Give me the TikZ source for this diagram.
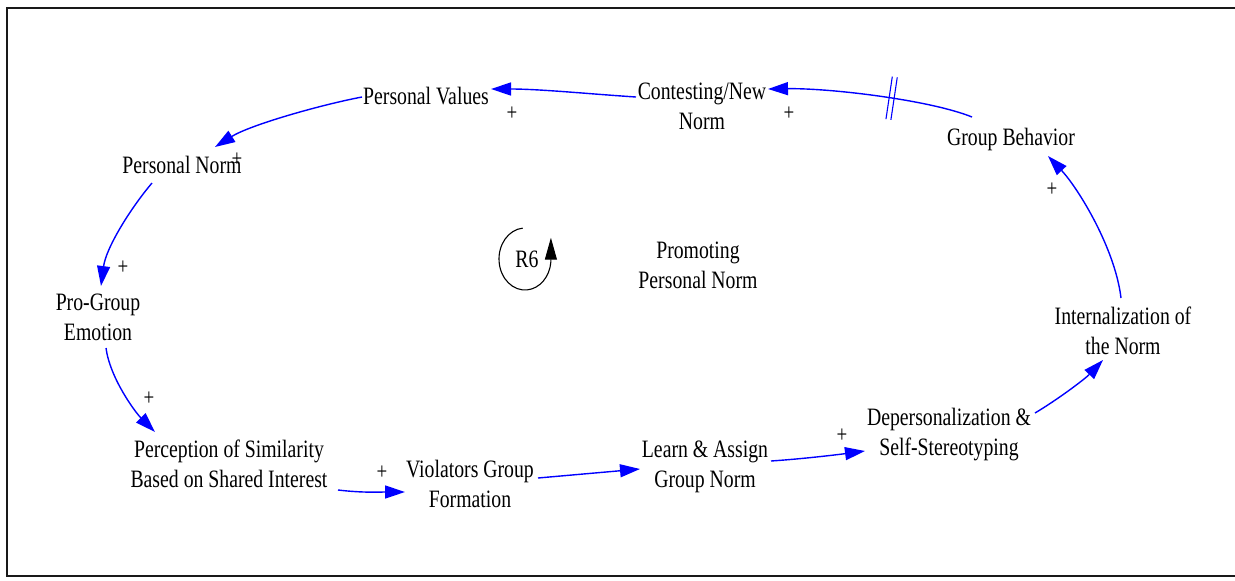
\documentclass[tikz,border=0pt]{standalone}
\usepackage{fontspec}
\setmainfont{Liberation Serif}[FakeStretch=0.79]
\usetikzlibrary{arrows.meta,calc,decorations.markings}

\begin{document}
\begin{tikzpicture}[x=1pt,y=-1pt,
  var/.style={inner sep=0pt, align=center, font=\fontsize{25}{30}\selectfont},
  pol/.style={inner sep=0pt, font=\fontsize{24}{30}\selectfont},
  link/.style={draw=blue, line width=1.4pt, -{Triangle[length=20pt,width=13pt]}},
  delay/.style={postaction={decorate}, decoration={markings,
      mark=at position #1 with {\draw[blue, line width=1.1pt, -]
        (-2.5,-21.5) -- (-2.5,21.5) (2.5,-21.5) -- (2.5,21.5);}}},
  frame/.style={line width=2.2pt, black!90},
]
\useasboundingbox (0,0) rectangle (1235,581);

% outer frame (open on the right side)
\draw[frame] (1235,8) -- (7,8) -- (7,576) -- (1235,576);

% variables
\node[var] (pv) at (426,96)    {Personal Values};
\node[var] (cn) at (702,106)   {Contesting/New\\Norm};
\node[var] (gb) at (1011,139)  {Group Behavior};
\node[var] (pn) at (182,165)   {Personal Norm};
\node[var] (pg) at (98,317.5)  {Pro-Group\\Emotion};
\node[var] (ps) at (229,464)   {Perception of Similarity\\Based on Shared Interest};
\node[var] (vg) at (470,483.5) {Violators Group\\Formation};
\node[var] (lg) at (705,467)   {Learn \& Assign\\Group Norm};
\node[var] (dp) at (949,434.5) {Depersonalization \&\\Self-Stereotyping};
\node[var] (in) at (1123,330.5){Internalization of\\the Norm};

% loop label
\node[var] (pp) at (698,265)   {Promoting\\Personal Norm};
\node[var] (r6) at (527,259)   {R6};
\draw[black, line width=1.1pt, -{Triangle[length=22pt,width=12pt]}]
  (r6) ++(-2,0) ++(-95:26 and 31)
  arc[start angle=-95, end angle=-355, x radius=26, y radius=31]
  -- ++(0,-24);

% causal links
\draw[link] ($(cn)+(-66,-9)$) .. controls +(-46,-3) and +(49,0) .. ($(pv)+(65,-7)$);
\draw[link, delay=0.4] ($(gb)+(-39,-22)$) .. controls +(-42,-17) and +(62,-1) .. ($(cn)+(66,-17)$);
\draw[link] ($(pv)+(-64,1)$) .. controls +(-42,8) and +(35,-22) .. ($(pn)+(33,-18)$);
\draw[link] ($(pn)+(-30,18)$) .. controls +(-22,26) and +(5,-38) .. ($(pg)+(3,-31.5)$);
\draw[link] ($(pg)+(8,30.5)$) .. controls +(4,30) and +(-20,-20) .. ($(ps)+(-74,-32)$);
\draw[link] ($(ps)+(109,26)$) .. controls +(25,3) and +(-25,0) .. ($(vg)+(-65,8.5)$);
\draw[link] ($(vg)+(68,-5.5)$) .. controls +(34,-3) and +(-34,3) .. ($(lg)+(-65,2)$);
\draw[link] ($(lg)+(66,-6)$) .. controls +(30,-2) and +(-30,4) .. ($(dp)+(-84,16.5)$);
\draw[link] ($(dp)+(86,-21.5)$) .. controls +(22,-13) and +(-18,19) .. ($(in)+(-20,29.5)$);
\draw[link] ($(in)+(-2,-32.5)$) .. controls +(-6,-50) and +(30,32) .. ($(gb)+(37,17)$);

% link polarities
\node[pol] (s1) at (512,114)  {+};
\node[pol] (s2) at (789,114)  {+};
\node[pol] (s3) at (237,160)  {+};
\node[pol] (s4) at (123,268)  {+};
\node[pol] (s5) at (149,399)  {+};
\node[pol] (s6) at (382,473)  {+};
\node[pol] (s7) at (842,436)  {+};
\node[pol] (s8) at (1052,190) {+};
\end{tikzpicture}
\end{document}
